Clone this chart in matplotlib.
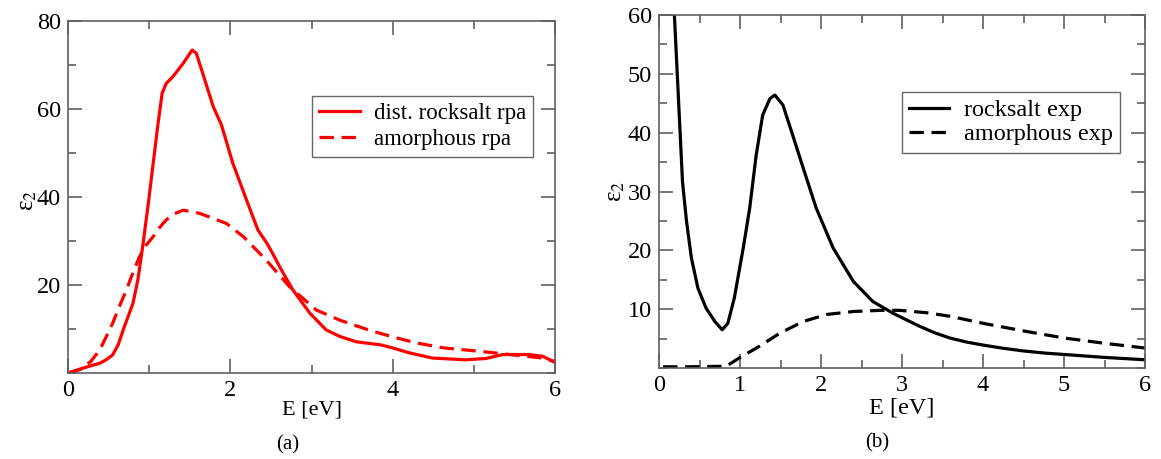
import matplotlib
matplotlib.use("Agg")
import matplotlib.pyplot as plt
from matplotlib.ticker import MultipleLocator

plt.rcParams['font.family'] = ['Liberation Serif', 'DejaVu Serif']
plt.rcParams['mathtext.fontset'] = 'stix'

# panel (a): rpa spectra
e_rock_a = [0, 0.10, 0.20, 0.31, 0.39, 0.47, 0.55, 0.62, 0.68, 0.74, 0.80, 0.86, 0.92, 0.99,
            1.05, 1.11, 1.16, 1.21, 1.29, 1.42, 1.53, 1.58, 1.66, 1.79, 1.89, 2.03, 2.20, 2.34,
            2.45, 2.52, 2.63, 2.77, 2.98, 3.18, 3.35, 3.55, 3.85, 4.00, 4.20, 4.49, 4.90, 5.15,
            5.36, 5.68, 5.85, 6.00]
eps_rock_a = [0, 0.6, 1.2, 1.8, 2.2, 3.0, 4.1, 6.5, 9.8, 12.8, 15.8, 21.1, 28.7, 38.6,
              47.7, 56.8, 63.6, 65.8, 67.3, 70.4, 73.4, 72.7, 68.1, 60.5, 56.4, 47.7, 39.3, 32.5,
              29.5, 27.2, 23.4, 18.9, 13.6, 9.8, 8.3, 7.1, 6.4, 5.7, 4.6, 3.4, 3.0, 3.3,
              4.2, 4.2, 3.8, 2.4]
e_amor_a = [0, 0.15, 0.28, 0.39, 0.47, 0.55, 0.63, 0.72, 0.80, 0.88, 0.96, 1.05, 1.13, 1.21,
            1.30, 1.42, 1.62, 1.95, 2.16, 2.44, 2.73, 3.06, 3.35, 3.70, 4.00, 4.30, 4.63, 5.09,
            5.64, 5.85, 6.00]
eps_amor_a = [0, 0.8, 2.6, 5.2, 8.2, 11.3, 15.0, 18.9, 22.8, 26.4, 29.0, 31.0, 33.1, 34.8,
              36.1, 37.0, 36.3, 34.0, 31.0, 25.7, 19.6, 14.3, 12.0, 9.8, 8.2, 6.8, 5.7, 4.9,
              3.8, 3.4, 2.6]

# panel (b): experiment
e_rock_b = [0.17, 0.19, 0.23, 0.26, 0.29, 0.34, 0.40, 0.48, 0.58, 0.69, 0.78, 0.85, 0.93, 1.04,
            1.12, 1.20, 1.28, 1.37, 1.43, 1.53, 1.65, 1.78, 1.94, 2.15, 2.40, 2.64, 2.89, 3.20,
            3.40, 3.59, 3.80, 4.00, 4.25, 4.50, 4.75, 5.00, 5.25, 5.50, 5.75, 6.00]
eps_rock_b = [66, 60, 48.7, 40.2, 31.7, 24.9, 18.7, 13.6, 10.2, 7.9, 6.5, 7.6, 11.9, 20.4,
              27.2, 36.2, 43.0, 45.8, 46.4, 44.7, 39.6, 34.0, 27.2, 20.4, 14.7, 11.3, 9.3, 7.2,
              6.0, 5.1, 4.4, 3.9, 3.35, 2.9, 2.55, 2.3, 2.05, 1.8, 1.6, 1.4]
e_amor_b = [0.05, 0.30, 0.60, 0.83, 0.99, 1.24, 1.49, 1.78, 2.07, 2.40, 2.73, 2.97, 3.30, 3.59,
            4.00, 4.50, 5.00, 5.50, 6.00]
eps_amor_b = [0.2, 0.2, 0.25, 0.3, 1.7, 3.7, 5.9, 7.9, 9.1, 9.6, 9.8, 9.8, 9.4, 8.8,
              7.6, 6.3, 5.1, 4.2, 3.4]

W, H = 1161, 459
fig = plt.figure(figsize=(W / 100, H / 100), dpi=100)
ax1 = fig.add_axes([68 / W, (H - 373) / H, 487 / W, 352 / H])
ax2 = fig.add_axes([659 / W, (H - 368) / H, 486 / W, 353 / H])

frame = '#606060'
lw = 2.3
dash = (4.5, 2.4)

ax1.plot(e_rock_a, eps_rock_a, color='red', lw=lw, solid_joinstyle='round', label='dist. rocksalt rpa')
ax1.plot(e_amor_a, eps_amor_a, color='red', lw=lw, dashes=dash, label='amorphous rpa')
ax2.plot(e_rock_b, eps_rock_b, color='black', lw=lw, solid_joinstyle='round', label='rocksalt exp')
ax2.plot(e_amor_b, eps_amor_b, color='black', lw=lw, dashes=dash, label='amorphous exp')

ax1.set_xlim(0, 6)
ax1.set_ylim(0, 80)
ax1.xaxis.set_major_locator(MultipleLocator(2))
ax1.xaxis.set_minor_locator(MultipleLocator(1))
ax1.yaxis.set_minor_locator(MultipleLocator(10))
ax1.set_yticks([20, 40, 60, 80])

ax2.set_xlim(0, 6)
ax2.set_ylim(0, 60)
ax2.xaxis.set_major_locator(MultipleLocator(1))
ax2.xaxis.set_minor_locator(MultipleLocator(0.5))
ax2.yaxis.set_minor_locator(MultipleLocator(5))
ax2.set_yticks([10, 20, 30, 40, 50, 60])

for ax, fs in ((ax1, 16), (ax2, 17.5)):
    for s in ax.spines.values():
        s.set_color(frame)
        s.set_linewidth(1.2)
    ax.tick_params(which='both', direction='in', top=True, right=True, color=frame,
                   width=1.2, labelsize=17.5, pad=5)
    ax.tick_params(which='major', length=10)
    ax.tick_params(which='minor', length=5.5)
    ax.set_xlabel('E [eV]', fontsize=fs, va='center')
    ax.set_ylabel('ε$_2$', fontsize=18, va='center')

ax1.xaxis.set_label_coords(0.5, -0.105)
ax1.yaxis.set_label_coords(-0.082, 0.49)
ax2.xaxis.set_label_coords(0.5, -0.113)
ax2.yaxis.set_label_coords(-0.088, 0.5)

leg_kw = dict(loc='upper left', frameon=True, fancybox=False, handletextpad=0.6,
              borderpad=0.3, borderaxespad=0)
l1 = ax1.legend(bbox_to_anchor=(312 / W, 1 - 96 / H), bbox_transform=fig.transFigure,
                fontsize=16.5, handlelength=1.8, labelspacing=0.22, **leg_kw)
l2 = ax2.legend(bbox_to_anchor=(902 / W, 1 - 92 / H), bbox_transform=fig.transFigure,
                fontsize=17.5, handlelength=1.65, labelspacing=0.08, **leg_kw)
for l in (l1, l2):
    l.get_frame().set_edgecolor('#404040')
    l.get_frame().set_linewidth(1.0)

fig.text(288 / W, 1 - 445 / H, '(a)', ha='center', va='center', fontsize=15)
fig.text(877 / W, 1 - 443 / H, '(b)', ha='center', va='center', fontsize=15)

fig.savefig('out.png', dpi=100)
